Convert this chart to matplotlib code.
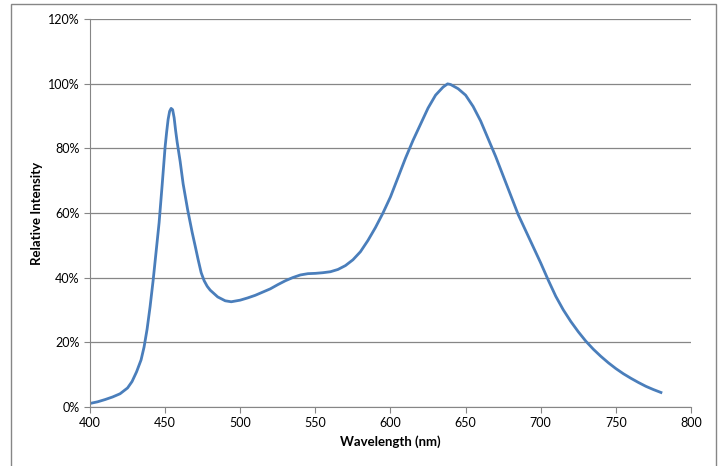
import matplotlib
matplotlib.use('Agg')
import matplotlib.pyplot as plt
from matplotlib.patches import Rectangle
from matplotlib.ticker import PercentFormatter

# spectrum (wavelength nm, relative intensity %)
wavelength = [400, 405, 410, 415, 420, 425, 428, 431, 434, 436, 438, 440, 442, 444,
              446, 448, 450, 451, 452, 453, 454, 455, 456, 457, 458, 460, 462, 465,
              468, 470, 472, 474, 476, 478, 480, 485, 490, 494, 500, 505, 510, 515,
              520, 525, 530, 535, 540, 545, 550, 555, 560, 565, 570, 575, 580, 585,
              590, 595, 600, 605, 610, 615, 620, 625, 630, 635, 638, 640, 645, 650,
              655, 660, 665, 670, 675, 680, 685, 690, 695, 700, 705, 710, 715, 720,
              725, 730, 735, 740, 745, 750, 755, 760, 765, 770, 775, 780]
intensity = [1.0, 1.5, 2.2, 3.0, 4.0, 5.8, 7.8, 10.8, 14.5, 18.5, 24, 31, 39, 48,
             57, 68.5, 80.5, 85, 89, 91.5, 92.4, 92, 89.5, 85.5, 82, 76, 69, 61,
             54, 49.8, 45.5, 41.5, 39, 37.3, 36.1, 34, 32.8, 32.5, 33, 33.7, 34.5, 35.5,
             36.5, 37.8, 39, 40, 40.8, 41.2, 41.3, 41.5, 41.8, 42.5, 43.7, 45.5, 48, 51.5,
             55.5, 60, 65, 71, 77, 82.5, 87.5, 92.5, 96.5, 99, 100, 99.8, 98.5, 96.5,
             93, 88.5, 83, 77.5, 71.5, 65.5, 59.5, 54.5, 49.5, 44.5, 39.2, 34.2, 30, 26.4,
             23.2, 20.3, 17.8, 15.6, 13.6, 11.8, 10.2, 8.8, 7.5, 6.3, 5.3, 4.4]

plt.rcParams['font.family'] = ['Lato', 'DejaVu Sans']

fig = plt.figure(figsize=(7.24, 4.66), dpi=100)
ax = fig.add_axes([0.1243, 0.1273, 0.8301, 0.8313])

# chart border
fig.patches.append(Rectangle((11 / 724, -0.05), 705 / 724, 1.05 - 4 / 466,
                             transform=fig.transFigure, fill=False,
                             edgecolor='#868686', linewidth=1.0))

ax.plot(wavelength, intensity, color='#4a7ebb', linewidth=2.0)

ax.set_xlim(400, 800)
ax.set_ylim(0, 120)
ax.set_xticks(range(400, 801, 50))
ax.set_yticks(range(0, 121, 20))
ax.yaxis.set_major_formatter(PercentFormatter(decimals=0))
ax.grid(axis='y', color='#868686', linewidth=0.9)
ax.set_axisbelow(True)

for side in ['top', 'right']:
    ax.spines[side].set_visible(False)
for side in ['left', 'bottom']:
    ax.spines[side].set_color('#868686')
ax.tick_params(axis='both', colors='#868686', labelcolor='black', labelsize=9,
               length=4, direction='out')

ax.set_xlabel('Wavelength (nm)', fontsize=9.5, fontweight='bold')
ax.set_ylabel('Relative Intensity', fontsize=9.5, fontweight='bold')
ax.xaxis.set_label_coords(0.5, -0.074)
ax.yaxis.set_label_coords(-0.079, 0.5)

fig.savefig('out.png', dpi=100)
